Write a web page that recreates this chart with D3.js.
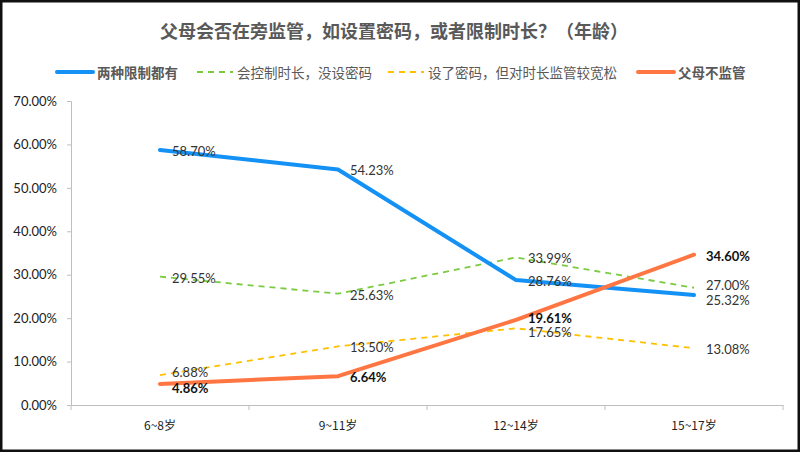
<!DOCTYPE html>
<html>
<head>
<meta charset="utf-8">
<script src="https://cdn.jsdelivr.net/npm/d3@7"></script>
<style>
  body { margin: 0; background: #fff; }
  text { font-family: "Noto Sans CJK SC", "Noto Sans", sans-serif; }
</style>
</head>
<body>
<div id="vis"></div>
<script>
// datos
const categorias = ["6~8岁", "9~11岁", "12~14岁", "15~17岁"];
const ambos = [58.70, 54.23, 28.76, 25.32];
const soloTiempo = [29.55, 25.63, 33.99, 27.00];
const soloClave = [6.88, 13.50, 17.65, 13.08];
const noVigila = [4.86, 6.64, 19.61, 34.60];
const ticksY = [0, 10, 20, 30, 40, 50, 60, 70];

const series = [
  { name: "两种限制都有", values: ambos, color: "#1491f5", width: 4, dash: null, bold: true },
  { name: "会控制时长，没设密码", values: soloTiempo, color: "#7acb3f", width: 1.8, dash: "6,5", bold: false },
  { name: "设了密码，但对时长监管较宽松", values: soloClave, color: "#ffc000", width: 1.8, dash: "6,5", bold: false },
  { name: "父母不监管", values: noVigila, color: "#ff7643", width: 4, dash: null, bold: true }
];

// pequeños ajustes verticales para que las etiquetas encimadas se lean
const ajuste = [
  [0, 0, 0, 4],
  [0, 0, 0, -4],
  [-4, 0, 3, 0],
  [3, 0, -3, 0]
];

function createChart(rute) {
  const W = 800, H = 452;
  const SVG = d3.select(rute).append("svg")
    .attr("width", W)
    .attr("height", H);

  SVG.append("rect")
    .attr("x", 1).attr("y", 1)
    .attr("width", W - 2).attr("height", H - 2)
    .attr("fill", "white")
    .attr("stroke", "#111")
    .attr("stroke-width", 3);

  const escalaX = d3.scaleBand()
    .domain(categorias)
    .range([71, 783]);

  const escalaY = d3.scaleLinear()
    .domain([0, 70])
    .range([405, 101]);

  // titulo
  SVG.append("text")
    .attr("x", 394).attr("y", 38)
    .attr("text-anchor", "middle")
    .style("font-size", "18px")
    .style("font-weight", "bold")
    .attr("fill", "#595959")
    .text("父母会否在旁监管，如设置密码，或者限制时长？（年龄）");

  // leyenda
  const legendX = [57, 197, 388, 638];
  series.forEach((s, i) => {
    const g = SVG.append("g").attr("transform", `translate(${legendX[i]}, 72)`);
    g.append("line")
      .attr("x1", 0).attr("x2", 36).attr("y1", 0).attr("y2", 0)
      .attr("stroke", s.color)
      .attr("stroke-width", s.dash ? 2 : 4)
      .attr("stroke-dasharray", s.dash ? "6,5" : null)
      .attr("stroke-linecap", s.dash ? "butt" : "round");
    g.append("text")
      .attr("x", 40).attr("y", 0)
      .attr("dominant-baseline", "central")
      .style("font-size", "13.5px")
      .style("font-weight", s.bold ? "bold" : "normal")
      .attr("fill", "#595959")
      .text(s.name);
  });

  // eje Y
  const ejeY = SVG.append("g")
    .attr("transform", "translate(71,0)")
    .call(d3.axisLeft(escalaY).tickValues(ticksY).tickSize(4).tickFormat(d => d.toFixed(2) + "%"));
  ejeY.select(".domain").attr("stroke", "#bfbfbf");
  ejeY.selectAll(".tick line").attr("stroke", "#bfbfbf");
  ejeY.selectAll("text")
    .style("font-size", "13px")
    .style("font-family", "Lato, 'Noto Sans', sans-serif")
    .attr("fill", "#222")
    .attr("x", -14);

  // eje X
  const ejeX = SVG.append("g")
    .attr("transform", "translate(0,405)")
    .call(d3.axisBottom(escalaX).tickSize(0).tickPadding(16));
  ejeX.select(".domain").attr("stroke", "#bfbfbf");
  ejeX.selectAll("text")
    .style("font-size", "12px")
    .attr("fill", "#222");
  ejeX.selectAll(".sep")
    .data(d3.range(categorias.length + 1))
    .join("line")
    .attr("class", "sep")
    .attr("x1", i => 71 + i * escalaX.bandwidth())
    .attr("x2", i => 71 + i * escalaX.bandwidth())
    .attr("y1", 0).attr("y2", 5)
    .attr("stroke", "#bfbfbf");

  const cx = (d, i) => escalaX(categorias[i]) + escalaX.bandwidth() / 2;
  const linea = d3.line()
    .x(cx)
    .y(d => escalaY(d));

  // primero las discontinuas, luego las gruesas
  const orden = [1, 2, 0, 3];
  orden.forEach(k => {
    const s = series[k];
    SVG.append("path")
      .datum(s.values)
      .attr("d", linea)
      .attr("fill", "none")
      .attr("stroke", s.color)
      .attr("stroke-width", s.width)
      .attr("stroke-dasharray", s.dash)
      .attr("stroke-linejoin", "round")
      .attr("stroke-linecap", s.dash ? "butt" : "round");
  });

  // etiquetas
  series.forEach((s, k) => {
    SVG.selectAll(".lbl" + k)
      .data(s.values)
      .join("text")
      .attr("class", "lbl" + k)
      .attr("x", (d, i) => cx(d, i) + 12)
      .attr("y", (d, i) => escalaY(d) + 1 + ajuste[k][i])
      .attr("dominant-baseline", "central")
      .style("font-size", "13px")
      .style("font-family", "Lato, 'Noto Sans', sans-serif")
      .style("font-weight", k === 3 ? "bold" : "normal")
      .attr("fill", k === 3 ? "#111" : "#333")
      .text(d => d.toFixed(2) + "%");
  });
}

createChart("#vis");
</script>
</body>
</html>
